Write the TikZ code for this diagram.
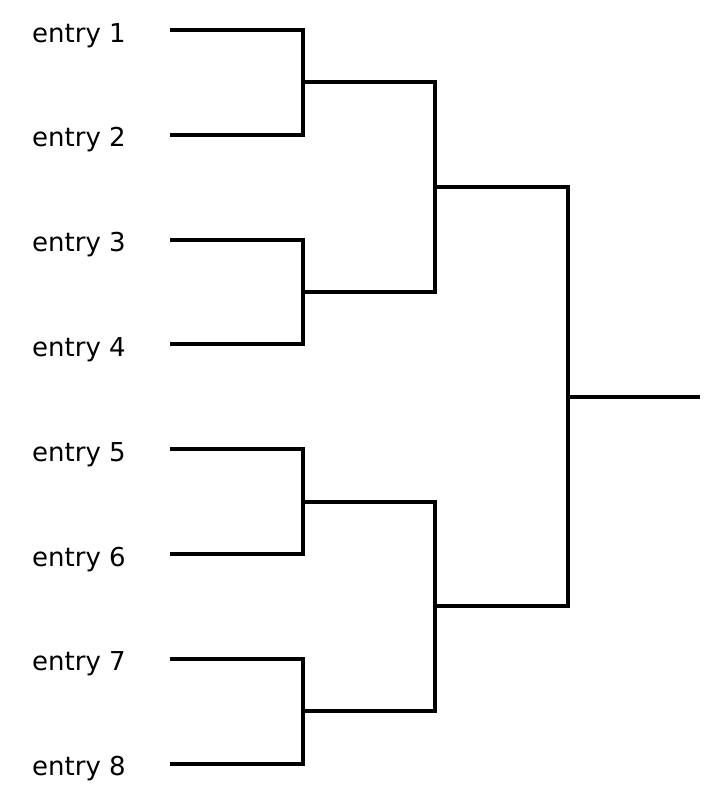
\documentclass[tikz,border=0pt]{standalone}
\usepackage{fontspec}
\setmainfont{DejaVu Sans}
\begin{document}
\begin{tikzpicture}[x=0.75pt,y=-0.75pt,
  bracket/.style={line width=3pt,black},
  entrylabel/.style={anchor=base east,inner sep=0pt,font=\fontsize{19.5}{22}\selectfont}]
\useasboundingbox (0,0) rectangle (710,794);
\foreach \i in {1,...,8}{
  \pgfmathsetmacro{\yy}{30+(\i-1)*104.8}
  \coordinate (s\i) at (170,\yy);
  \node[entrylabel] (e\i) at (126,\yy+12) {entry \i};
}
% round 1 junctions
\coordinate (m1) at (302.5,82.4);
\coordinate (m2) at (302.5,292);
\coordinate (m3) at (302.5,501.6);
\coordinate (m4) at (302.5,711.2);
% round 2 junctions
\coordinate (q1) at (435,187.2);
\coordinate (q2) at (435,606.4);
% final junction
\coordinate (t) at (568,396.8);
\coordinate (w) at (700,396.8);
\draw[bracket] (s1) -| (m1) |- (s2);
\draw[bracket] (s3) -| (m2) |- (s4);
\draw[bracket] (s5) -| (m3) |- (s6);
\draw[bracket] (s7) -| (m4) |- (s8);
\draw[bracket] (m1) -| (q1) |- (m2);
\draw[bracket] (m3) -| (q2) |- (m4);
\draw[bracket] (q1) -| (t) |- (q2);
\draw[bracket] (t) -- (w);
\end{tikzpicture}
\end{document}
